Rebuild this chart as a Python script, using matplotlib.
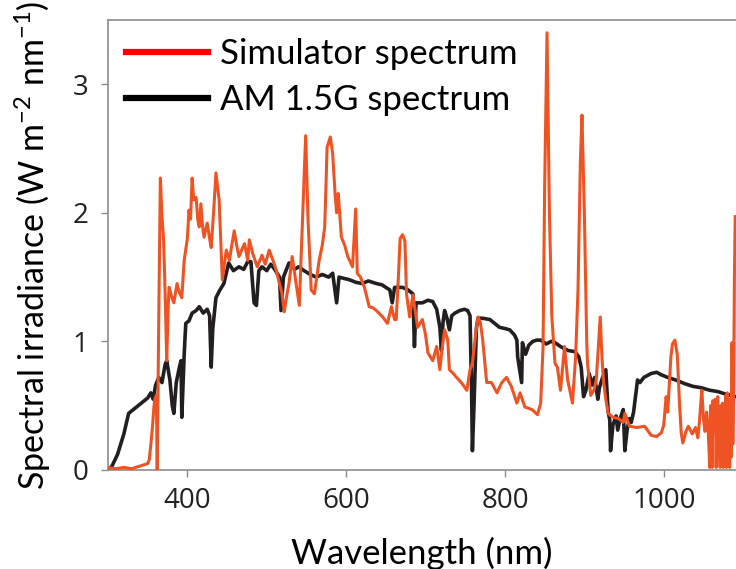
import matplotlib
matplotlib.use("Agg")
import matplotlib.pyplot as plt
from matplotlib.lines import Line2D

# AM 1.5G reference spectrum (wavelength nm, irradiance W m-2 nm-1)
am_wl = [300, 305, 312, 320, 326, 332, 338, 344, 350, 354, 357, 360, 364, 368, 372, 374,
         378, 381, 383, 386, 390, 392, 393, 396, 398, 402, 406, 411, 415, 420, 425, 428,
         430, 432, 436, 441, 446, 452, 458, 465, 471, 476, 480, 484, 487, 490, 494, 500,
         505, 510, 516, 518, 521, 528, 535, 540, 547, 555, 562, 570, 578, 583, 588, 591,
         597, 604, 612, 620, 628, 638, 645, 650, 655, 658, 661, 665, 671, 678, 684, 686,
         688, 696, 703, 709, 714, 718, 720, 722, 724, 727, 730, 733, 737, 743, 749, 753,
         756, 758, 759, 761, 764, 766, 772, 781, 787, 793, 800, 806, 812, 815, 816, 818,
         821, 822, 826, 830, 835, 840, 845, 852, 858, 863, 870, 879, 888, 893, 896, 899,
         902, 906, 910, 913, 917, 919, 923, 927, 930, 932, 933, 936, 940, 942, 945, 949,
         951, 954, 957, 959, 962, 967, 970, 975, 984, 991, 997, 1005, 1015, 1027, 1037,
         1047, 1058, 1068, 1078, 1091]
am_val = [0.0, 0.03, 0.12, 0.28, 0.44, 0.47, 0.50, 0.53, 0.56, 0.60, 0.55, 0.66, 0.72, 0.68,
          0.82, 0.85, 0.70, 0.50, 0.44, 0.68, 0.80, 0.85, 0.41, 0.90, 1.14, 1.16, 1.22, 1.24,
          1.27, 1.22, 1.25, 1.20, 0.80, 1.10, 1.34, 1.40, 1.45, 1.61, 1.55, 1.58, 1.56, 1.62,
          1.62, 1.30, 1.28, 1.55, 1.58, 1.55, 1.60, 1.56, 1.50, 1.24, 1.50, 1.61, 1.56, 1.58,
          1.55, 1.52, 1.50, 1.52, 1.50, 1.53, 1.30, 1.50, 1.49, 1.48, 1.46, 1.45, 1.47, 1.45,
          1.44, 1.42, 1.40, 1.30, 1.42, 1.42, 1.42, 1.40, 1.37, 0.96, 1.30, 1.30, 1.32, 1.31,
          1.25, 1.11, 0.93, 1.15, 1.24, 1.18, 1.09, 1.20, 1.22, 1.24, 1.25, 1.24, 1.20, 0.60,
          0.15, 0.50, 1.10, 1.18, 1.18, 1.17, 1.14, 1.11, 1.10, 1.09, 1.05, 1.01, 0.88, 0.80,
          0.68, 0.99, 0.90, 0.97, 1.00, 1.01, 1.01, 0.98, 1.00, 0.99, 0.96, 0.93, 0.92, 0.88,
          0.80, 0.57, 0.62, 0.75, 0.66, 0.72, 0.55, 0.64, 0.72, 0.78, 0.45, 0.39, 0.15, 0.35,
          0.42, 0.31, 0.40, 0.47, 0.15, 0.32, 0.40, 0.37, 0.45, 0.70, 0.68, 0.72, 0.75, 0.76,
          0.74, 0.72, 0.70, 0.67, 0.65, 0.64, 0.62, 0.61, 0.59, 0.57]

# solar simulator spectrum
sim_wl = [300, 310, 320, 330, 340, 345, 350, 352, 354, 356, 358, 359, 361, 362, 363, 364,
          366, 368, 370, 372, 374, 376, 377, 380, 383, 387, 390, 393, 396, 400, 402, 404,
          406, 408, 411, 413, 415, 417, 419, 421, 425, 428, 430, 433, 436, 440, 442, 444,
          447, 449, 453, 456, 459, 462, 465, 469, 472, 476, 478, 482, 488, 494, 498, 503,
          509, 512, 516, 519, 522, 525, 528, 532, 537, 541, 545, 549, 552, 556, 560, 566,
          570, 573, 576, 580, 583, 586, 588, 590, 594, 598, 602, 608, 612, 614, 618, 623,
          629, 634, 638, 646, 652, 657, 661, 663, 665, 668, 671, 674, 676, 680, 684, 690,
          696, 700, 703, 709, 714, 718, 721, 724, 728, 730, 735, 739, 745, 752, 756, 759,
          763, 766, 769, 772, 777, 783, 790, 796, 802, 808, 815, 819, 825, 834, 841, 845,
          848, 850, 853, 856, 859, 863, 866, 870, 875, 879, 885, 889, 892, 895, 897, 900,
          903, 904, 908, 912, 915, 918, 920, 922, 924, 927, 930, 936, 943, 949, 951, 957,
          966, 976, 984, 991, 997, 1000, 1003, 1005, 1009, 1011, 1014, 1017, 1020, 1022,
          1024, 1028, 1031, 1036, 1040, 1043, 1045, 1047, 1048, 1050, 1052, 1054, 1056,
          1058, 1059, 1060, 1061, 1062, 1064, 1065, 1066, 1067, 1068, 1069, 1070, 1071,
          1072, 1073, 1074, 1075, 1076, 1077, 1078, 1079, 1080, 1081, 1082, 1083, 1084,
          1085, 1086, 1087, 1088, 1089, 1090]
sim_val = [0.02, 0.01, 0.02, 0.01, 0.03, 0.04, 0.05, 0.08, 0.20, 0.33, 0.50, 0.55, 0.58,
           0.00, 0.60, 1.20, 2.27, 1.97, 1.80, 1.37, 0.85, 1.30, 1.42, 1.35, 1.30, 1.45,
           1.38, 1.34, 1.63, 1.80, 2.02, 1.95, 2.27, 2.10, 2.12, 1.95, 1.89, 2.07, 1.90,
           1.81, 1.92, 1.80, 1.73, 2.00, 2.31, 2.10, 1.80, 1.48, 1.62, 1.71, 1.63, 1.75,
           1.86, 1.75, 1.66, 1.72, 1.76, 1.63, 1.79, 1.69, 1.58, 1.67, 1.60, 1.71, 1.61,
           1.55, 1.45, 1.38, 1.23, 1.35, 1.45, 1.66, 1.45, 1.28, 1.94, 2.60, 1.94, 1.40,
           1.37, 1.63, 1.75, 1.89, 2.51, 2.59, 2.46, 2.15, 2.00, 2.15, 1.81, 1.75, 1.66,
           1.58, 2.03, 1.53, 1.50, 1.42, 1.27, 1.26, 1.24, 1.19, 1.14, 1.27, 1.17, 1.17,
           1.40, 1.80, 1.83, 1.78, 1.37, 1.19, 1.36, 1.11, 1.17, 1.05, 0.91, 0.85, 0.96,
           0.78, 0.95, 1.09, 1.01, 0.78, 0.75, 0.72, 0.68, 0.62, 0.78, 0.83, 1.05, 1.19,
           1.15, 1.01, 0.68, 0.68, 0.60, 0.68, 0.72, 0.65, 0.52, 0.60, 0.49, 0.47, 0.43,
           0.52, 0.96, 2.20, 3.40, 2.00, 1.20, 0.83, 0.80, 0.62, 0.96, 0.70, 0.52, 0.88,
           1.40, 2.40, 2.76, 2.00, 1.00, 0.83, 0.58, 0.62, 0.70, 1.00, 1.19, 0.90, 0.70,
           0.55, 0.44, 0.41, 0.40, 0.37, 0.44, 0.34, 0.33, 0.34, 0.27, 0.26, 0.29, 0.35,
           0.57, 0.45, 0.88, 0.98, 1.01, 0.90, 0.50, 0.29, 0.21, 0.30, 0.34, 0.28, 0.33,
           0.25, 0.38, 0.55, 0.62, 0.40, 0.30, 0.45, 0.30, 0.02, 0.50, 0.30, 0.02, 0.54,
           0.30, 0.55, 0.02, 0.45, 0.57, 0.10, 0.40, 0.02, 0.50, 0.20, 0.52, 0.02, 0.45,
           0.10, 0.58, 0.02, 0.60, 0.05, 0.55, 0.02, 0.50, 0.10, 0.99, 0.20, 0.60, 1.50,
           1.97]

xticks = [400, 600, 800, 1000]
yticks = [0, 1, 2, 3]

plt.rcParams['font.family'] = ['Lato', 'DejaVu Sans']
plt.rcParams['mathtext.fontset'] = 'custom'
plt.rcParams['mathtext.rm'] = 'Lato'
plt.rcParams['mathtext.default'] = 'regular'

fig = plt.figure(figsize=(7.36, 5.69), dpi=100)
ax = fig.add_axes([0.1467, 0.174, 0.8533, 0.791])

ax.plot(am_wl, am_val, color='#231f20', lw=2.6, zorder=2)
ax.plot(sim_wl, sim_val, color='#ef5323', lw=2.2, zorder=3)

ax.set_xlim(300, 1091)
ax.set_ylim(0, 3.5)
ax.set_xticks(xticks)
ax.set_yticks(yticks)

for side in ['left', 'bottom', 'top']:
    ax.spines[side].set_color('#8c8c8c')
    ax.spines[side].set_linewidth(1.2)
ax.spines['right'].set_visible(False)
ax.tick_params(direction='out', length=5, width=1, color='#8c8c8c',
               labelsize=20, labelcolor='#222222')
ax.tick_params(axis='x', pad=7)
ax.tick_params(axis='y', pad=9)
for lab in ax.get_xticklabels() + ax.get_yticklabels():
    lab.set_family('Open Sans')

ax.set_xlabel('Wavelength (nm)', fontsize=25, labelpad=16)
ax.set_ylabel(r'Spectral irradiance (W m$^{-2}$ nm$^{-1}$)', fontsize=24.5, labelpad=14)

handles = [Line2D([], [], color='#ff0000', lw=4.5),
           Line2D([], [], color='#000000', lw=4.5)]
ax.legend(handles, ['Simulator spectrum', 'AM 1.5G spectrum'], loc='upper left',
          bbox_to_anchor=(0.0, 1.0), frameon=False, fontsize=25, handlelength=2.36,
          handletextpad=0.35, labelspacing=0.4, borderpad=0.4, borderaxespad=0.12)

fig.savefig('out.png', dpi=100)
